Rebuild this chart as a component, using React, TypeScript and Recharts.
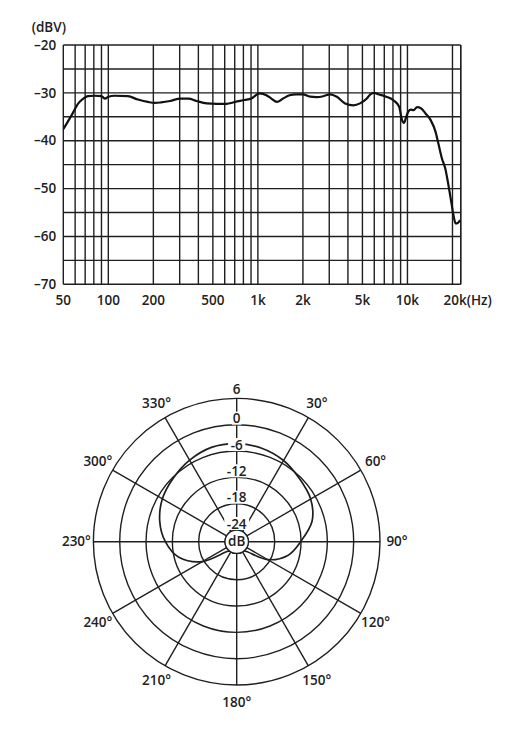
import {
  LineChart,
  Line,
  XAxis,
  YAxis,
  CartesianGrid,
  ReferenceLine,
  RadarChart,
  Radar,
  PolarGrid,
  PolarAngleAxis,
  PolarRadiusAxis,
} from 'recharts'

const FONT = '"Open Sans", "DejaVu Sans", sans-serif'
const INK = '#1f1f1f'
const TEXT = '#222'

// frequency response
const freqHz = [
  50, 57, 63, 68, 73, 81, 90, 95, 100, 110, 135, 158, 184, 204, 225, 259, 303, 343, 389, 455,
  530, 617, 703, 815, 904, 990, 1030, 1140, 1230, 1340, 1470, 1630, 1800, 2000, 2230, 2470,
  2740, 3040, 3370, 3830, 4350, 4820, 5350, 5650, 6000, 6400, 7200, 8100, 8800, 9200, 9500,
  9700, 10100, 10500, 11000, 11600, 12300, 13200, 14300, 15400, 16100, 17000, 17900, 18800,
  19700, 20400, 21000, 21700, 22500,
]
const levelDbv = [
  -37.6, -34.6, -32.2, -31.2, -30.7, -30.6, -30.7, -31.2, -30.8, -30.6, -30.7, -31.4, -31.9,
  -32.1, -32.0, -31.7, -31.2, -31.2, -31.7, -32.2, -32.3, -32.3, -31.9, -31.5, -31.2, -30.3,
  -30.1, -30.5, -31.2, -31.9, -31.2, -30.5, -30.3, -30.3, -30.8, -30.9, -30.7, -30.3, -30.8,
  -32.2, -32.6, -32.2, -31.2, -30.3, -30.0, -30.3, -30.8, -31.6, -32.9, -35.7, -36.3, -35.5,
  -34.0, -33.5, -33.6, -33.0, -33.2, -34.3, -35.7, -38.1, -40.6, -43.7, -45.8, -49.3, -53.1,
  -55.9, -57.3, -57.2, -56.6,
]

const freqMin = 50
const freqMax = 22700
const freqGrid = [
  50, 60, 70, 80, 90, 100, 200, 300, 400, 500, 600, 700, 800, 900, 1000, 2000, 3000, 4000,
  5000, 6000, 7000, 8000, 9000, 10000, 20000,
]
const freqLabels: Record<number, string> = {
  50: '50',
  100: '100',
  200: '200',
  500: '500',
  1000: '1k',
  2000: '2k',
  5000: '5k',
  10000: '10k',
  20000: '20k(Hz)',
}
const dbvGrid = [-70, -65, -60, -55, -50, -45, -40, -35, -30, -25, -20]

// polar pattern (dB at each angle, clockwise from front)
const polarAngles = [
  0, 15, 30, 45, 60, 75, 90, 105, 120, 135, 150, 165, 180, 195, 210, 225, 240, 255, 270, 285,
  300, 315, 330, 345,
]
const polarDb = [
  -4.3, -4.6, -5.3, -6.4, -7.2, -8.9, -12.1, -14.6, -18.5, -23.5, -24, -24, -24, -24, -24,
  -23.5, -17.6, -13.0, -10.4, -8.5, -7.1, -6.2, -5.2, -4.4,
]
const angleTicks = [0, 30, 60, 90, 120, 150, 180, 210, 240, 270, 300, 330]
const angleLabels = ['', '30°', '60°', '90°', '120°', '150°', '180°', '210°', '240°', '230°', '300°', '330°']
const ringTicks = [-24, -18, -12, -6, 0, 6]

const responseData = freqHz.map((f, i) => ({ f, db: levelDbv[i] }))
const polarData = polarAngles.map((angle, i) => ({ angle, db: polarDb[i] }))

const POLAR_CX = 236.7
const POLAR_CY = 211.7
const POLAR_INNER = 11.7
const POLAR_OUTER = 143.3

const textStyle = { fontFamily: FONT, fontSize: 13.5, fontWeight: 600, fill: TEXT }

function FreqTick({ x, y, payload }: any) {
  const label = freqLabels[payload.value]
  if (!label) return <g />
  if (payload.value === 20000) {
    return (
      <text x={x - 9} y={y} dy="0.35em" textAnchor="start" style={textStyle}>
        {label}
      </text>
    )
  }
  return (
    <text x={x} y={y} dy="0.35em" textAnchor="middle" style={textStyle}>
      {label}
    </text>
  )
}

function DbvTick({ x, y, payload }: any) {
  if (payload.value % 10 !== 0) return <g />
  return (
    <text x={x} y={y} dy="0.35em" textAnchor="end" style={textStyle}>
      {`–${Math.abs(payload.value)}`}
    </text>
  )
}

function AngleTick({ x, y, payload }: any) {
  const idx = angleTicks.indexOf(payload.value)
  const label = idx >= 0 ? angleLabels[idx] : ''
  if (!label) return <g />
  return (
    <text x={x} y={y} dy="0.35em" textAnchor="middle" style={textStyle}>
      {label}
    </text>
  )
}

function RingTick({ x, y, payload }: any) {
  const lift = payload.value === 6 ? 9 : 6
  const label = String(payload.value)
  const w = label.length * 7.6 + 2
  return (
    <g>
      {payload.value !== 6 && <rect x={x - w / 2} y={y - lift - 7} width={w} height={13} fill="#fff" />}
      <text x={x} y={y - lift} dy="0.35em" textAnchor="middle" style={textStyle}>
        {label}
      </text>
    </g>
  )
}

// closed catmull-rom through the radar points, then the "dB" hub on top
function SmoothPattern(props: any) {
  const pts: { x: number; y: number }[] = props.points || []
  if (!pts.length) return <g />
  const n = pts.length
  let d = `M${pts[0].x},${pts[0].y}`
  for (let i = 0; i < n; i++) {
    const p0 = pts[(i - 1 + n) % n]
    const p1 = pts[i]
    const p2 = pts[(i + 1) % n]
    const p3 = pts[(i + 2) % n]
    const c1x = p1.x + (p2.x - p0.x) / 6
    const c1y = p1.y + (p2.y - p0.y) / 6
    const c2x = p2.x - (p3.x - p1.x) / 6
    const c2y = p2.y - (p3.y - p1.y) / 6
    d += ` C${c1x},${c1y} ${c2x},${c2y} ${p2.x},${p2.y}`
  }
  return (
    <g>
      <path d={d} fill="none" stroke={INK} strokeWidth={1.7} />
      <circle cx={POLAR_CX} cy={POLAR_CY} r={POLAR_INNER} fill="#fff" stroke={INK} strokeWidth={1.3} />
      <text x={POLAR_CX} y={POLAR_CY} dy="0.35em" textAnchor="middle" style={textStyle}>
        dB
      </text>
    </g>
  )
}

export default function App() {
  return (
    <div style={{ position: 'absolute', left: 0, top: 0, width: 508, height: 733, background: '#fff', fontFamily: FONT }}>
      <div style={{ position: 'absolute', left: 31.7, top: 20, fontSize: 13.5, fontWeight: 600, lineHeight: '15px', color: TEXT }}>
        (dBV)
      </div>
      <div style={{ position: 'absolute', left: 0, top: 0 }}>
        <LineChart
          width={508}
          height={320}
          data={responseData}
          margin={{ top: 45, right: 47.3, left: 13.3, bottom: 5.7 }}
        >
          <CartesianGrid stroke={INK} strokeWidth={1.4} />
          <XAxis
            dataKey="f"
            type="number"
            scale="log"
            domain={[freqMin, freqMax]}
            allowDataOverflow
            ticks={freqGrid}
            interval={0}
            height={30}
            axisLine={false}
            tickLine={false}
            tickSize={0}
            tickMargin={16}
            tick={FreqTick}
          />
          <YAxis
            type="number"
            domain={[-70, -20]}
            ticks={dbvGrid}
            interval={0}
            width={50}
            axisLine={false}
            tickLine={false}
            tickSize={0}
            tickMargin={7}
            tick={DbvTick}
          />
          <ReferenceLine x={freqMax} stroke={INK} strokeWidth={1.4} />
          <Line
            dataKey="db"
            type="monotone"
            stroke="#111"
            strokeWidth={2.2}
            dot={false}
            isAnimationActive={false}
          />
        </LineChart>
      </div>
      <div style={{ position: 'absolute', left: 0, top: 330 }}>
        <RadarChart
          width={508}
          height={403}
          data={polarData}
          cx={POLAR_CX}
          cy={POLAR_CY}
          innerRadius={POLAR_INNER}
          outerRadius={POLAR_OUTER}
          startAngle={90}
          endAngle={-270}
          margin={{ top: 0, right: 0, bottom: 0, left: 0 }}
        >
          <PolarGrid gridType="circle" stroke={INK} strokeWidth={1.4} />
          <PolarAngleAxis
            dataKey="angle"
            type="number"
            domain={[0, 360]}
            ticks={angleTicks as any}
            tickCount={13}
            axisLine={false}
            tickLine={false}
            tickSize={17}
            tick={AngleTick}
          />
          <PolarRadiusAxis
            angle={90}
            type="number"
            domain={[-24, 6]}
            ticks={ringTicks as any}
            tickCount={6}
            axisLine={false}
            tickLine={false}
            tick={RingTick}
          />
          <Radar dataKey="db" shape={SmoothPattern} isAnimationActive={false} />
        </RadarChart>
      </div>
    </div>
  )
}
